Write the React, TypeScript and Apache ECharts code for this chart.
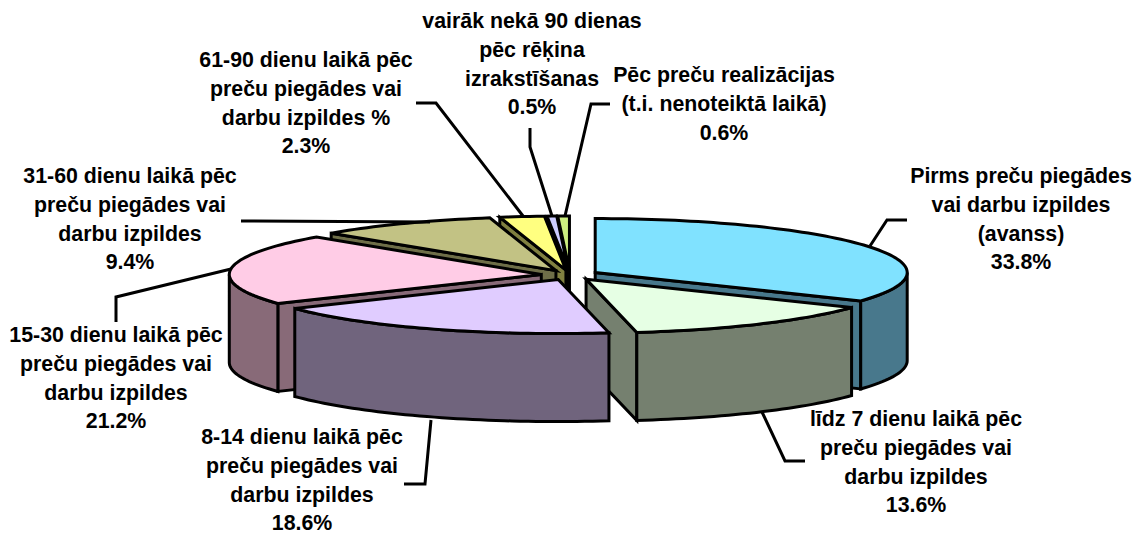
import React, { useEffect, useRef } from "react";
import * as echarts from "echarts";

const categories = [
  "Pirms preču piegādes\nvai darbu izpildes\n(avanss)",
  "līdz 7 dienu laikā pēc\npreču piegādes vai\ndarbu izpildes",
  "8-14 dienu laikā pēc\npreču piegādes vai\ndarbu izpildes",
  "15-30 dienu laikā pēc\npreču piegādes vai\ndarbu izpildes",
  "31-60 dienu laikā pēc\npreču piegādes vai\ndarbu izpildes",
  "61-90 dienu laikā pēc\npreču piegādes vai\ndarbu izpildes %",
  "vairāk nekā 90 dienas\npēc rēķina\nizrakstīšanas",
  "Pēc preču realizācijas\n(t.i. nenoteiktā laikā)",
];
const shares = [33.8, 13.6, 18.6, 21.2, 9.4, 2.3, 0.5, 0.6];
const topColors = ["#80e2ff", "#e6ffe4", "#e0ccff", "#ffcce6", "#c2c284", "#ffff80", "#ccccff", "#ccee80"];
const wallColors = ["#48788c", "#75806f", "#70647d", "#886a78", "#6e6e48", "#808040", "#66668c", "#808040"];
const paintOrder = [7, 6, 5, 4, 3, 0, 1, 2];

// label anchor: centre x, first line centre y
const labelX = [1021, 916, 302, 116, 130, 306, 532, 724];
const labelY = [176, 419, 437, 335, 176, 60, 21, 75];
const leaderLines: number[][][] = [
  [[907, 220], [887, 220], [870, 246]],
  [[762, 412], [785, 461], [805, 461]],
  [[431, 420], [425, 484], [404, 484]],
  [[231, 269], [116, 297], [116, 322]],
  [[241, 221], [430, 222]],
  [[416, 103], [436, 103], [523, 216]],
  [[530, 128], [530, 147], [552, 216]],
  [[610, 104], [591, 104], [565, 216]],
];

const CX = 570;
const CY = 275;
const RX = 312;
const RY = 54;
const DEPTH = 88;
const EXPLODE = 0.0925;
const LINE_W = 3;
const LINE_H = 28.8;
const FONT_SIZE = 21.33;

const rad = (d: number) => (d * Math.PI) / 180;

function renderSlice(params: any) {
  const i = params.dataIndex;
  const before = shares.slice(0, i).reduce((a, b) => a + b, 0);
  const a0 = (before / 100) * 360;
  const a1 = ((before + shares[i]) / 100) * 360;
  const mid = (a0 + a1) / 2;
  const tx = CX + EXPLODE * RX * Math.sin(rad(mid));
  const ty = CY - EXPLODE * RY * Math.cos(rad(mid));
  const rim = (a: number): number[] => [tx + RX * Math.sin(rad(a)), ty - RY * Math.cos(rad(a))];
  const arc = (from: number, to: number): number[][] => {
    const n = Math.max(2, Math.ceil((to - from) / 1.5));
    const pts: number[][] = [];
    for (let k = 0; k <= n; k++) pts.push(rim(from + ((to - from) * k) / n));
    return pts;
  };
  const z2 = paintOrder.indexOf(i) * 10;
  const style = (fill: string) => ({ fill, stroke: "#000", lineWidth: LINE_W, lineJoin: "miter" });
  const down = (p: number[]) => [p[0], p[1] + DEPTH];
  const children: any[] = [];
  const wall = (points: number[][], z: number) =>
    children.push({ type: "polygon", z2: z2 + z, shape: { points }, style: style(wallColors[i]) });

  const sinStart = Math.sin(rad(a0));
  const sinEnd = Math.sin(rad(a1));
  const tip = [tx, ty];
  if (sinStart < 0) wall([tip, rim(a0), down(rim(a0)), down(tip)], 1);
  if (sinEnd > 0) wall([tip, rim(a1), down(rim(a1)), down(tip)], 1);
  const f0 = Math.max(a0, 90);
  const f1 = Math.min(a1, 270);
  if (f1 > f0) {
    const top = arc(f0, f1);
    wall([...top, ...top.slice().reverse().map(down)], 2);
  }
  children.push({
    type: "polygon",
    z2: z2 + 3,
    shape: { points: [tip, ...arc(a0, a1)] },
    style: style(topColors[i]),
  });
  return { type: "group", children };
}

export default function App() {
  const ref = useRef<HTMLDivElement>(null);
  useEffect(() => {
    const chart = echarts.init(ref.current!, undefined, { renderer: "svg" });
    const graphics: any[] = [];
    leaderLines.forEach((points) =>
      graphics.push({
        type: "polyline",
        z: 5,
        silent: true,
        shape: { points },
        style: { fill: "none", stroke: "#000", lineWidth: LINE_W },
      })
    );
    categories.forEach((name, i) => {
      const lines = [...name.split("\n"), shares[i].toFixed(1) + "%"];
      lines.forEach((line, k) =>
        graphics.push({
          type: "text",
          z: 6,
          silent: true,
          x: labelX[i],
          y: labelY[i] + k * LINE_H,
          style: {
            text: line,
            fill: "#000",
            font: `bold ${FONT_SIZE}px "Liberation Sans", Arial, sans-serif`,
            textAlign: "center",
            textVerticalAlign: "middle",
          },
        })
      );
    });
    chart.setOption({
      animation: false,
      backgroundColor: "#fff",
      graphic: graphics,
      series: [
        {
          type: "custom",
          coordinateSystem: "none",
          silent: true,
          clip: false,
          renderItem: renderSlice,
          data: shares.map((v) => [v]),
        },
      ],
    });
    return () => chart.dispose();
  }, []);
  return (
    <div
      ref={ref}
      style={{ position: "absolute", left: 0, top: 0, width: 1148, height: 534 }}
    />
  );
}
